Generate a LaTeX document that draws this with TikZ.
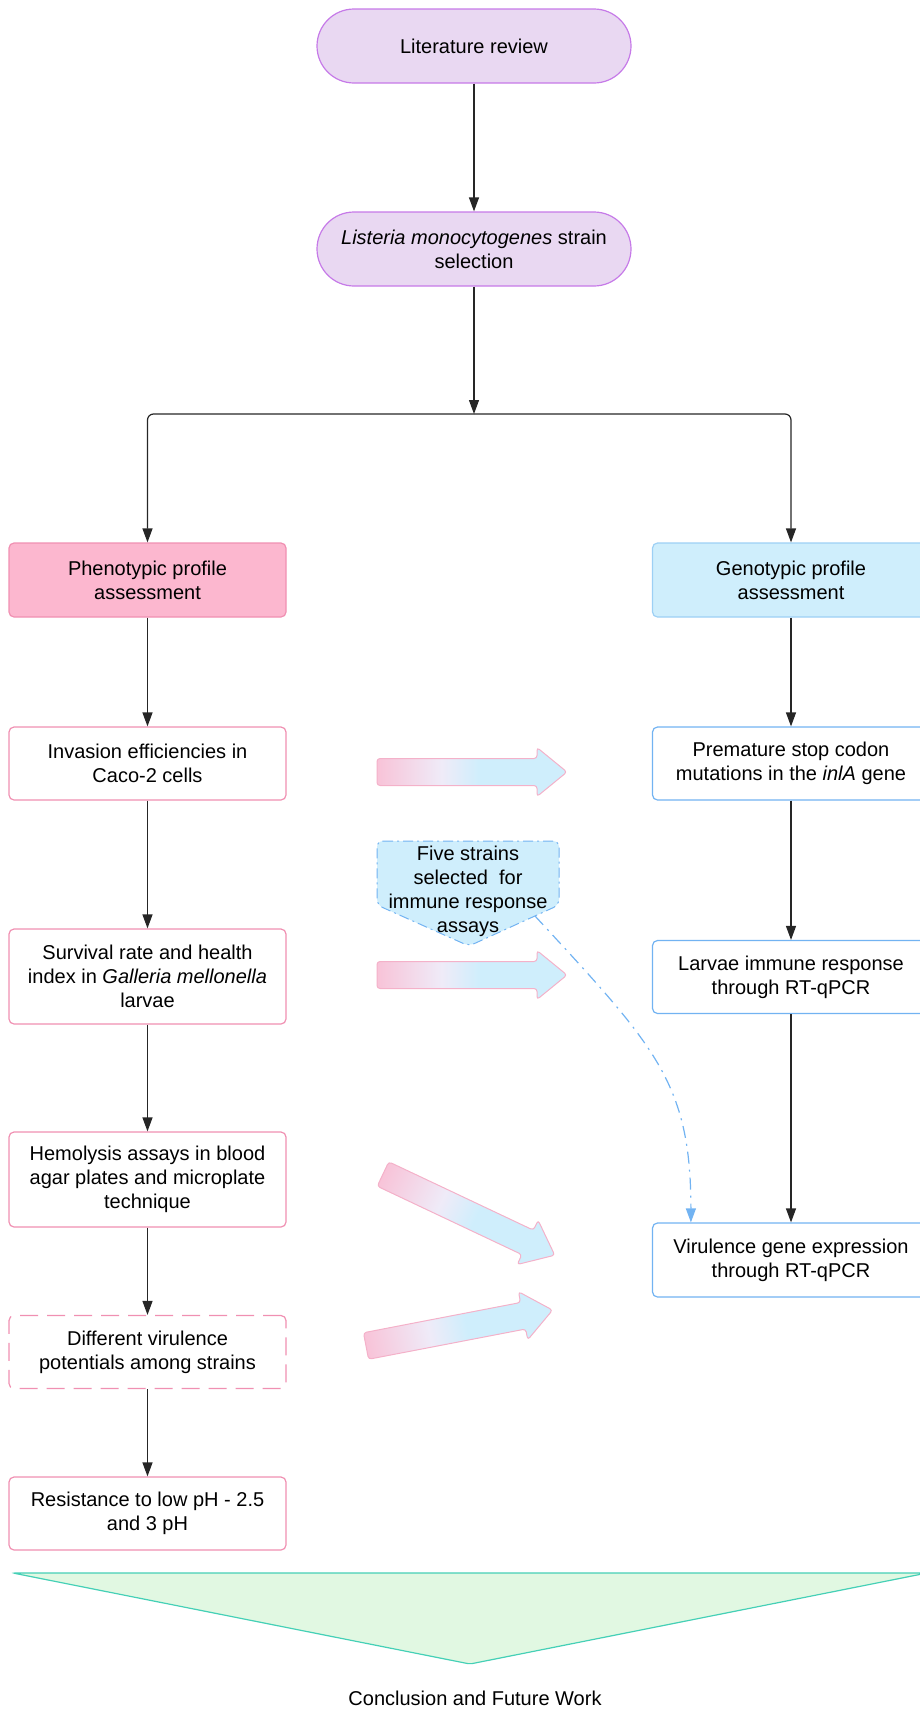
\documentclass[tikz,border=0pt]{standalone}
\usepackage{fontspec}
\setmainfont{Liberation Sans}
\usepackage{xcolor}
\usetikzlibrary{arrows.meta}
\definecolor{lilac}{HTML}{E9D8F2}
\definecolor{orchid}{HTML}{C67AE8}
\definecolor{blush}{HTML}{FCB7CF}
\definecolor{rose}{HTML}{F090B2}
\definecolor{sky}{HTML}{CFEEFC}
\definecolor{skyline}{HTML}{72B3F2}
\definecolor{skypale}{HTML}{9DD0F5}
\definecolor{mint}{HTML}{E1F8E2}
\definecolor{sea}{HTML}{45D0B6}
\definecolor{fadepink}{HTML}{F8C3D8}
\definecolor{fademid}{HTML}{EFEBF8}
\pgfdeclarehorizontalshading{pinktosky}{100bp}{color(0bp)=(fadepink); color(25bp)=(fadepink); color(42bp)=(fademid); color(52bp)=(sky); color(100bp)=(sky)}

% broad arrow, pink tail fading into blue head
\newcommand\fadearrow[3]{%
  \begin{scope}[transform canvas={shift={(#1,#2)},rotate=#3}]
    \shadedraw[shading=pinktosky,draw=rose!70,line width=1pt,rounded corners=3pt]
      (0,-13.5) -- (160,-13.5) -- (160,-24.5) -- (190,0) -- (160,24.5) -- (160,13.5) -- (0,13.5) -- cycle;
  \end{scope}}

\begin{document}
\begin{tikzpicture}[x=1pt,y=-1pt,>={Triangle[length=14pt,width=10pt]},
  every node/.style={font=\fontsize{20}{24}\selectfont,align=center,line width=1.2pt},
  stage/.style={draw=orchid,fill=lilac,rounded corners=37pt,minimum width=314pt,minimum height=74pt},
  phenohead/.style={draw=rose,fill=blush,rounded corners=5pt,minimum width=277pt,minimum height=74pt},
  genohead/.style={draw=skypale,fill=sky,rounded corners=5pt,minimum width=277pt,minimum height=74pt},
  phenobox/.style={draw=rose,fill=white,rounded corners=5pt,minimum width=277pt,minimum height=73pt},
  genobox/.style={draw=skyline,fill=white,rounded corners=5pt,minimum width=277pt,minimum height=73pt},
  dashbox/.style={dash pattern=on 18pt off 9pt},
  flow/.style={->,line width=1.2pt,black!85}]
\useasboundingbox (0,0) rectangle (920,1711);

\node[stage] (lit) at (474,46) {Literature review};
\node[stage] (sel) at (474,249) {\textit{Listeria monocytogenes} strain\\selection};
\coordinate (split) at (474,414);

% phenotypic side
\node[phenohead] (pheno) at (147.5,580) {Phenotypic profile\\assessment};
\node[phenobox] (inv) at (147.5,763.5) {Invasion efficiencies in\\Caco-2 cells};
\node[phenobox,minimum height=95pt] (surv) at (147.5,976.5) {Survival rate and health\\index in \textit{Galleria mellonella}\\larvae};
\node[phenobox,minimum height=95pt] (hemo) at (147.5,1179.5) {Hemolysis assays in blood\\agar plates and microplate\\technique};
\node[phenobox,dashbox] (diff) at (147.5,1352) {Different virulence\\potentials among strains};
\node[phenobox] (res) at (147.5,1513.5) {Resistance to low pH - 2.5\\and 3 pH};

% genotypic side
\node[genohead] (geno) at (791,580) {Genotypic profile\\assessment};
\node[genobox] (prem) at (791,763.5) {Premature stop codon\\mutations in the \textit{inlA} gene};
\node[genobox] (larv) at (791,977) {Larvae immune response\\through RT-qPCR};
\node[genobox,minimum height=74pt] (vir) at (791,1260) {Virulence gene expression\\through RT-qPCR};

\draw[flow] (lit) -- (sel);
\draw[flow] (sel) -- (split);
\draw[flow,rounded corners=6pt] (split) -| (pheno);
\draw[flow,rounded corners=6pt] (split) -| (geno);
\foreach \a/\b in {pheno/inv,inv/surv,surv/hemo,hemo/diff,diff/res,geno/prem,prem/larv,larv/vir}
  \draw[flow] (\a) -- (\b);

\fadearrow{377}{772}{0}
\fadearrow{377}{975}{0}
\fadearrow{383}{1174}{-25.3}
\fadearrow{366}{1346}{10.9}

% callout
\filldraw[fill=sky,draw=skyline,line width=1pt,dash pattern=on 10pt off 4pt on 2pt off 4pt,rounded corners=6pt]
  (377,841) -- (559,841) -- (559,905) -- (469,946) -- (377,905) -- cycle;
\node (five) at (468,891) {Five strains\\selected~ for\\immune response\\assays};
\coordinate (tap) at (535,916);
\draw[->,skyline,line width=1.2pt,dash pattern=on 12pt off 6pt on 2pt off 6pt]
  (tap) .. controls +(120,130) and +(0,-140) .. ([xshift=39pt]vir.north west);

% closing funnel
\filldraw[fill=mint,draw=sea,line width=1.2pt,rounded corners=2pt] (13,1573) -- (927,1573) -- (470,1664) -- cycle;
\node (concl) at (475,1698) {Conclusion and Future Work};
\end{tikzpicture}
\end{document}
